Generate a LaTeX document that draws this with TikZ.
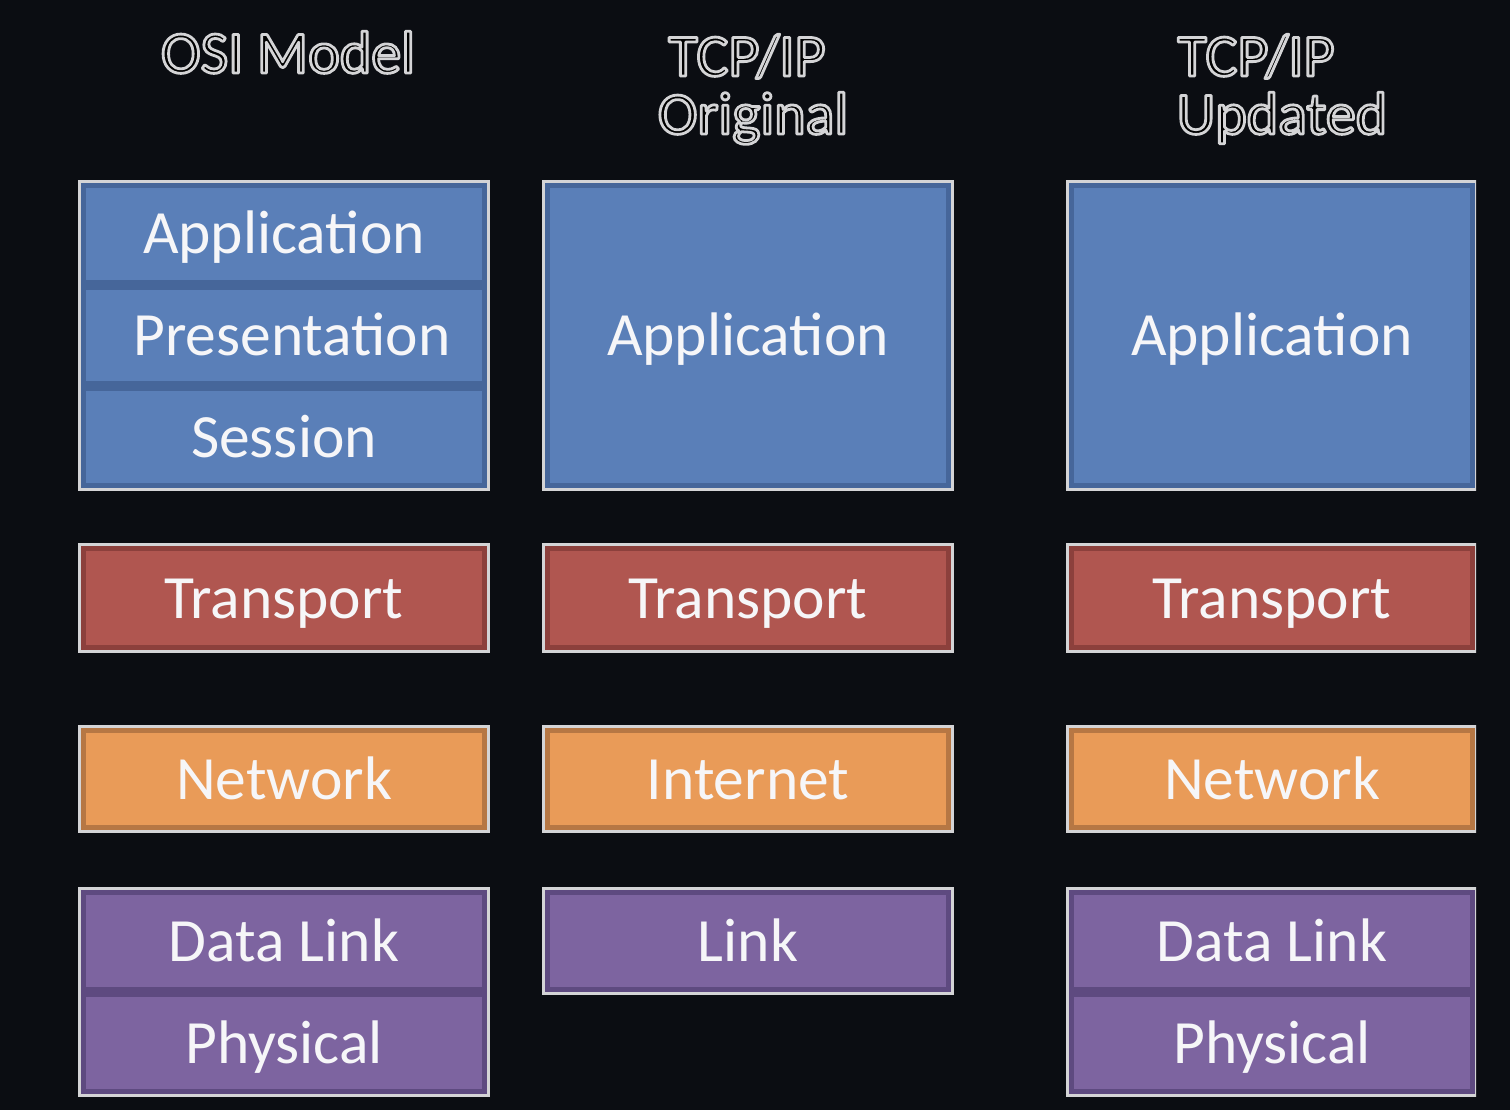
\documentclass[tikz,border=0pt]{standalone}
\usepackage{fontspec}
\setmainfont{Carlito}
\definecolor{bgdark}{HTML}{0B0D12}
\definecolor{framegray}{HTML}{D4D4D6}
\definecolor{appblue}{HTML}{5A7FB8}
\definecolor{appblueedge}{HTML}{46669A}
\definecolor{transred}{HTML}{B05650}
\definecolor{transrededge}{HTML}{8C403C}
\definecolor{netorange}{HTML}{E99B58}
\definecolor{netorangeedge}{HTML}{B67744}
\definecolor{linkpurple}{HTML}{7D64A0}
\definecolor{linkpurpleedge}{HTML}{5E4A80}
\definecolor{labelwhite}{HTML}{F6F6F8}
% outlined lettering: black fill with a light stroke (PDF text render mode 2)
\newcommand{\outlined}[1]{{\color{black}%
  \special{pdf:literal direct 2 Tr 2.8 w 1 j 0.83 0.83 0.84 RG}#1%
  \special{pdf:literal direct 0 Tr}}}
\begin{document}
\begin{tikzpicture}[x=1pt,y=-1pt,
  layer/.style={draw=#1edge, fill=#1, line width=5pt, minimum width=401pt,
    inner sep=0pt, text height=46pt, text depth=6pt, text=labelwhite,
    font=\fontsize{61.5}{72}\selectfont},
  frame/.style={draw=framegray, line width=3pt},
  title/.style={anchor=base, inner sep=0pt, font=\fontsize{60}{72}\selectfont}]
\useasboundingbox (0,0) rectangle (1510,1110);
\fill[bgdark] (0,0) rectangle (1510,1110);

% column titles
\node[title] (t1) at (288,73) {\outlined{OSI Model}};
\node[title] (t2a) at (747,76) {\outlined{TCP/IP}};
\node[title] (t2b) at (753,134) {\outlined{Original}};
\node[title] (t3a) at (1256,76) {\outlined{TCP/IP}};
\node[title] (t3b) at (1282,134) {\outlined{Updated}};

% OSI model stack
\node[layer=appblue, minimum height=97pt] (osiapp) at (284,234) {Application};
\node[layer=appblue, minimum height=96pt] (osipres) at (284,335.5) {\hspace{16pt}Presentation};
\node[layer=appblue, minimum height=97pt] (osises) at (284,437) {Session};
\draw[frame] (79.5,181.5) rectangle (488.5,489.5);
\node[layer=transred, minimum height=99pt] (ositrans) at (284,598) {Transport};
\draw[frame] (79.5,544.5) rectangle (488.5,651.5);
\node[layer=netorange, minimum height=97pt] (osinet) at (284,779) {Network};
\draw[frame] (79.5,726.5) rectangle (488.5,831.5);
\node[layer=linkpurple, minimum height=97pt] (osidl) at (284,941) {Data Link};
\node[layer=linkpurple, minimum height=97pt] (osiphy) at (284,1043) {Physical};
\draw[frame] (79.5,888.5) rectangle (488.5,1095.5);

% original TCP/IP stack
\node[layer=appblue, minimum height=300pt] (origapp) at (748,335.5) {Application};
\draw[frame] (543.5,181.5) rectangle (952.5,489.5);
\node[layer=transred, minimum height=99pt] (origtrans) at (748,598) {Transport};
\draw[frame] (543.5,544.5) rectangle (952.5,651.5);
\node[layer=netorange, minimum height=97pt] (originet) at (748,779) {Internet};
\draw[frame] (543.5,726.5) rectangle (952.5,831.5);
\node[layer=linkpurple, minimum height=97pt] (origlink) at (748,941) {Link};
\draw[frame] (543.5,888.5) rectangle (952.5,993.5);

% updated TCP/IP stack, running off the right edge
\begin{scope}
\clip (0,0) rectangle (1476,1110);
\node[layer=appblue, minimum height=300pt] (updapp) at (1272,335.5) {Application};
\draw[frame] (1067.5,181.5) rectangle (1476.5,489.5);
\node[layer=transred, minimum height=99pt] (updtrans) at (1272,598) {Transport};
\draw[frame] (1067.5,544.5) rectangle (1476.5,651.5);
\node[layer=netorange, minimum height=97pt] (updnet) at (1272,779) {Network};
\draw[frame] (1067.5,726.5) rectangle (1476.5,831.5);
\node[layer=linkpurple, minimum height=97pt] (upddl) at (1272,941) {Data Link};
\node[layer=linkpurple, minimum height=97pt] (updphy) at (1272,1043) {Physical};
\draw[frame] (1067.5,888.5) rectangle (1476.5,1095.5);
\end{scope}
\end{tikzpicture}
\end{document}
